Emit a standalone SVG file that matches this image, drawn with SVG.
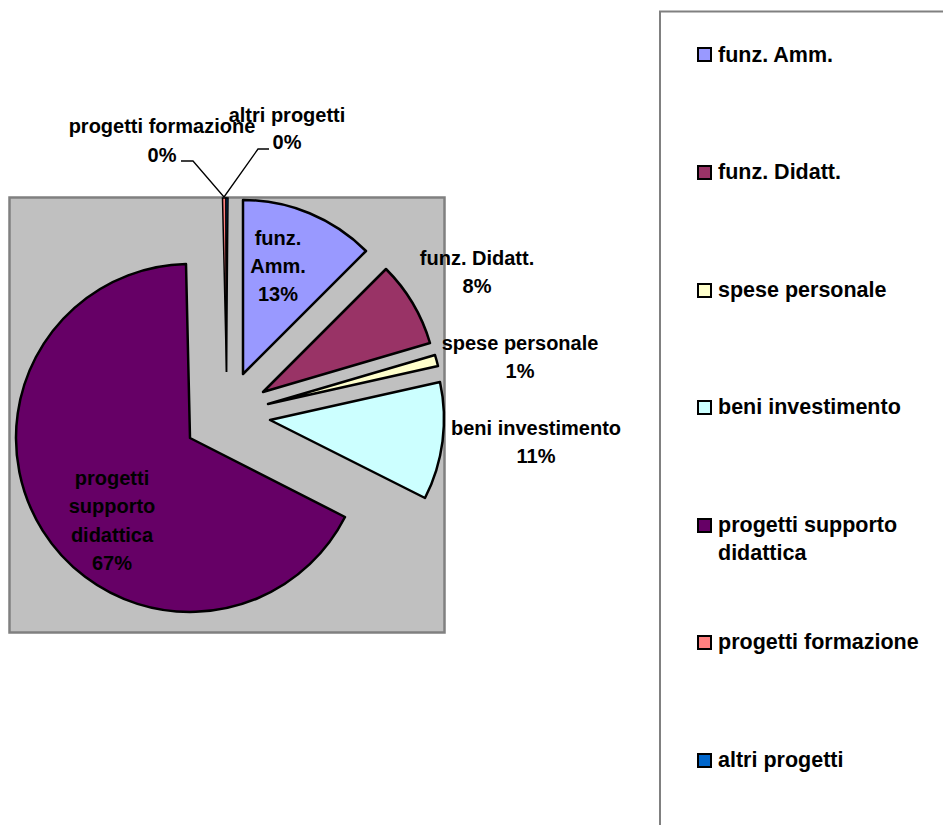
<svg xmlns="http://www.w3.org/2000/svg" width="943" height="825" viewBox="0 0 943 825">
<style>
text{font-family:"Liberation Sans",Arial,sans-serif;font-weight:bold;fill:#000;}
.lbl{font-size:20px;text-anchor:middle;}
.leg{font-size:21.5px;}
.sl{stroke:#000;stroke-width:2.5;stroke-linejoin:round;}
.sw{stroke:#000;stroke-width:2;}
.ld{fill:none;stroke:#000;stroke-width:1.3;}
</style>
<rect width="943" height="825" fill="#fff"/>
<g id="plot-area">
<rect x="9.5" y="197.5" width="435" height="435" fill="#c0c0c0" stroke="#808080" stroke-width="2.5"/>
</g>
<g id="slice-amm">
<path class="sl" fill="#9999ff" d="M243,374 L243,200 A174,174 0 0 1 366,251 Z"/>
</g>
<g id="slice-didatt">
<path class="sl" fill="#993366" d="M263,392 L386,269 A174,174 0 0 1 430,343 Z"/>
</g>
<g id="slice-spese">
<path class="sl" fill="#ffffcc" d="M268,404 L435,355 A174,174 0 0 1 438,366 Z"/>
</g>
<g id="slice-beni">
<path class="sl" fill="#ccffff" d="M270,420 L440,382 A174,174 0 0 1 425,498 Z"/>
</g>
<g id="slice-supporto">
<path class="sl" fill="#660066" d="M190,438 L345,517 A174,174 0 1 1 186,264 Z"/>
</g>
<g id="slice-formazione">
<path fill="#ff8080" stroke="#000" stroke-width="1.5" d="M226.5,372 L222.5,198 L226,198 Z"/>
</g>
<g id="slice-altri">
<path fill="#0066cc" stroke="#000" stroke-width="1.5" d="M226.5,372 L226,198 L228,198 Z"/>
</g>
<g id="connectors">
<polyline class="ld" points="181,161 193,161 224,197"/>
<polyline class="ld" points="224,197 258,149 269,149"/>
</g>
<g id="labels">
<text class="lbl" x="278" y="245">funz.</text>
<text class="lbl" x="278" y="273">Amm.</text>
<text class="lbl" x="278" y="301">13%</text>
<text class="lbl" x="477" y="265">funz. Didatt.</text>
<text class="lbl" x="477" y="293">8%</text>
<text class="lbl" x="520" y="350">spese personale</text>
<text class="lbl" x="520" y="378">1%</text>
<text class="lbl" x="536" y="435">beni investimento</text>
<text class="lbl" x="536" y="463">11%</text>
<text class="lbl" x="112" y="485">progetti</text>
<text class="lbl" x="112" y="513">supporto</text>
<text class="lbl" x="112" y="542">didattica</text>
<text class="lbl" x="112" y="570">67%</text>
<text class="lbl" x="162" y="133">progetti formazione</text>
<text class="lbl" x="162" y="162">0%</text>
<text class="lbl" x="287" y="122">altri progetti</text>
<text class="lbl" x="287" y="149">0%</text>
</g>
<g id="legend">
<rect x="660" y="11.5" width="300" height="830" fill="#fff" stroke="#808080" stroke-width="2"/>
<rect class="sw" x="698" y="48" width="13" height="13" fill="#9999ff"/>
<text class="leg" x="718" y="62">funz. Amm.</text>
<rect class="sw" x="698" y="166" width="13" height="13" fill="#993366"/>
<text class="leg" x="718" y="179">funz. Didatt.</text>
<rect class="sw" x="698" y="284" width="13" height="13" fill="#ffffcc"/>
<text class="leg" x="718" y="297">spese personale</text>
<rect class="sw" x="698" y="401" width="13" height="13" fill="#ccffff"/>
<text class="leg" x="718" y="414">beni investimento</text>
<rect class="sw" x="698" y="519" width="13" height="13" fill="#660066"/>
<text class="leg" x="718" y="532">progetti supporto</text>
<text class="leg" x="718" y="560">didattica</text>
<rect class="sw" x="698" y="636" width="13" height="13" fill="#ff8080"/>
<text class="leg" x="718" y="649">progetti formazione</text>
<rect class="sw" x="698" y="754" width="13" height="13" fill="#0066cc"/>
<text class="leg" x="718" y="767">altri progetti</text>
</g>
</svg>
